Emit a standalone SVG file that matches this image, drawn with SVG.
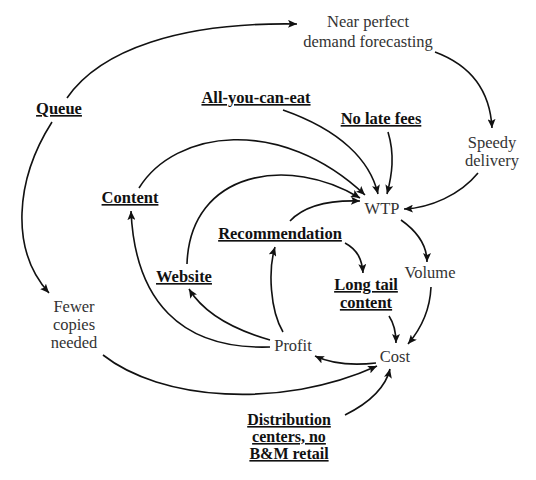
<svg xmlns="http://www.w3.org/2000/svg" width="536" height="480" viewBox="0 0 536 480" font-family="'Liberation Serif', 'DejaVu Serif', serif">
<style>
  text { font-family: 'Liberation Serif', 'DejaVu Serif', serif; font-size: 16.5px; text-anchor: middle; }
  .n { fill: #333; }
  .b { fill: #111; font-weight: bold; text-decoration: underline; }
  .s { font-size: 16px; }
  .c path { fill: none; stroke: #111; stroke-width: 1.6; marker-end: url(#ah); }
</style>
<defs>
  <marker id="ah" markerUnits="userSpaceOnUse" markerWidth="10" markerHeight="8" refX="9" refY="4" orient="auto">
    <path d="M0,0 L9,4 L0,8 L2,4 Z" fill="#111"/>
  </marker>
</defs>
<rect width="536" height="480" fill="#fff"/>
<g class="c" id="connectors">
  <path d="M67,98 C100,50 180,22 297,24"/>
  <path d="M52,122 C15,180 10,250 49,293"/>
  <path d="M435,52 C470,65 490,90 492,128"/>
  <path d="M478,173 C460,195 430,208 404,209"/>
  <path d="M283,110 C340,130 370,160 378,194"/>
  <path d="M388,132 C395,155 392,175 387,194"/>
  <path d="M139,188 C175,130 280,115 365,195"/>
  <path d="M187,264 C190,170 290,155 360,198"/>
  <path d="M290,221 C305,205 330,200 360,201"/>
  <path d="M345,243 C358,250 362,260 363,273"/>
  <path d="M401,220 C418,232 427,245 427,262"/>
  <path d="M431,287 C430,310 420,330 408,344"/>
  <path d="M389,316 C395,325 396,333 396,343"/>
  <path d="M376,363 C350,366 330,363 315,356"/>
  <path d="M283,332 C270,310 268,270 275,247"/>
  <path d="M270,340 C235,330 205,315 189,289"/>
  <path d="M270,347 C180,350 135,300 131,211"/>
  <path d="M103,355 C160,400 280,410 377,366"/>
  <path d="M345,415 C365,405 385,390 390,369"/>
</g>
<g id="near-perfect"><text class="n" x="368" y="27">Near perfect</text><text class="n" x="368" y="47">demand forecasting</text></g>
<g id="queue"><text class="b" x="59" y="114">Queue</text></g>
<g id="all-you-can-eat"><text class="b" x="256" y="103">All-you-can-eat</text></g>
<g id="no-late-fees"><text class="b" x="381" y="124">No late fees</text></g>
<g id="speedy"><text class="n" x="492" y="148">Speedy</text><text class="n" x="492" y="166">delivery</text></g>
<g id="content"><text class="b" x="130" y="203">Content</text></g>
<g id="wtp"><text class="n" x="382" y="214">WTP</text></g>
<g id="recommendation"><text class="b" x="280" y="239">Recommendation</text></g>
<g id="website"><text class="b" x="184" y="282">Website</text></g>
<g id="long-tail"><text class="b" x="366" y="290">Long tail</text><text class="b" x="366" y="308">content</text></g>
<g id="volume"><text class="n" x="430" y="278">Volume</text></g>
<g id="profit"><text class="n" x="293" y="351">Profit</text></g>
<g id="cost"><text class="n" x="395" y="362">Cost</text></g>
<g id="fewer"><text class="n" x="74" y="312">Fewer</text><text class="n" x="74" y="330">copies</text><text class="n" x="74" y="348">needed</text></g>
<g id="distribution"><text class="b s" x="289" y="425">Distribution</text><text class="b s" x="289" y="442">centers, no</text><text class="b s" x="289" y="459">B&amp;M retail</text></g>
</svg>
